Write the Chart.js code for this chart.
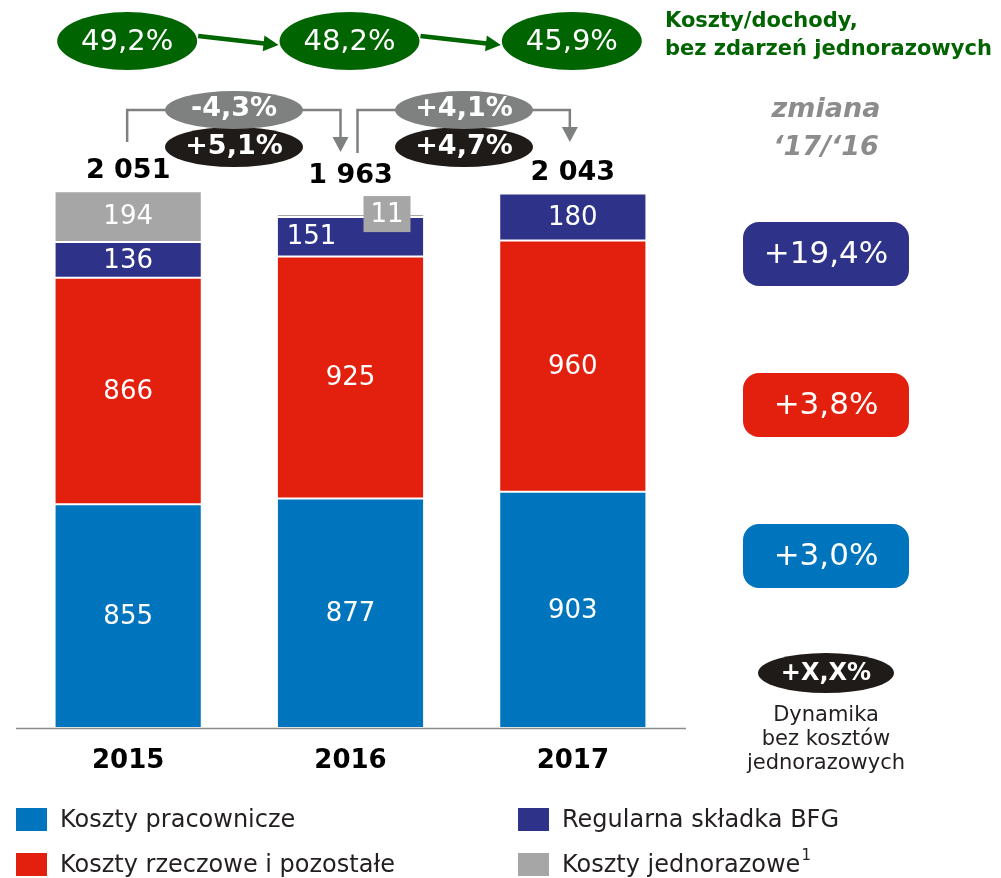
<!DOCTYPE html>
<html>
<head>
<meta charset="utf-8">
<script src="https://cdn.jsdelivr.net/npm/chart.js@4/dist/chart.umd.min.js"></script>
<style>
  html, body { margin: 0; padding: 0; background: #fff; }
  #wrap { width: 1001px; height: 878px; position: relative; }
</style>
</head>
<body>
<div id="wrap"><canvas id="costChart" width="1001" height="878"></canvas></div>
<script>
// chart data
const years = ['2015', '2016', '2017'];
const personnel = [855, 877, 903];
const material = [866, 925, 960];
const bfg = [136, 151, 180];
const oneOff = [194, 11, null];
const totals = ['2 051', '1 963', '2 043'];
const costIncome = ['49,2%', '48,2%', '45,9%'];
const yoyReported = ['-4,3%', '+4,1%'];
const yoyExOneOff = ['+5,1%', '+4,7%'];
const change1716 = ['+19,4%', '+3,8%', '+3,0%']; // BFG, rzeczowe, pracownicze

const BLUE = '#0075be', RED = '#e31f0d', NAVY = '#2e3389', GRAY = '#a5a6a5';
const GREEN = '#006400', CONN = '#7f8181', DARK = '#1f1b18';
const FONT = '"DejaVu Sans", Verdana, sans-serif';

function ellipse(ctx, cx, cy, rx, ry, fill) {
  ctx.beginPath();
  ctx.ellipse(cx, cy, rx, ry, 0, 0, Math.PI * 2);
  ctx.fillStyle = fill;
  ctx.fill();
}
function text(ctx, s, x, y, font, color, align) {
  ctx.font = font;
  ctx.fillStyle = color;
  ctx.textAlign = align || 'center';
  ctx.textBaseline = 'middle';
  ctx.fillText(s, x, y);
}
function roundRect(ctx, x, y, w, h, r, fill) {
  ctx.beginPath();
  ctx.moveTo(x + r, y);
  ctx.arcTo(x + w, y, x + w, y + h, r);
  ctx.arcTo(x + w, y + h, x, y + h, r);
  ctx.arcTo(x, y + h, x, y, r);
  ctx.arcTo(x, y, x + w, y, r);
  ctx.closePath();
  ctx.fillStyle = fill;
  ctx.fill();
}
function arrowHead(ctx, tx, ty, angle, len, half, color) {
  ctx.save();
  ctx.translate(tx, ty);
  ctx.rotate(angle);
  ctx.beginPath();
  ctx.moveTo(0, 0);
  ctx.lineTo(-len, -half);
  ctx.lineTo(-len, half);
  ctx.closePath();
  ctx.fillStyle = color;
  ctx.fill();
  ctx.restore();
}

const annotations = {
  id: 'annotations',
  afterDatasetsDraw(chart) {
    const ctx = chart.ctx;
    const xs = chart.scales.x;
    const area = chart.chartArea;
    ctx.save();

    // base line
    ctx.strokeStyle = '#8c8c8c';
    ctx.lineWidth = 1.5;
    ctx.beginPath();
    ctx.moveTo(area.left - 1, area.bottom + 0.5);
    ctx.lineTo(area.right + 2, area.bottom + 0.5);
    ctx.stroke();

    // segment labels
    const segFont = '26px ' + FONT;
    const barTops = [];
    chart.data.datasets.forEach((ds, di) => {
      const meta = chart.getDatasetMeta(di);
      meta.data.forEach((bar, i) => {
        const v = ds.data[i];
        if (v == null) return;
        const p = bar.getProps(['x', 'y', 'base', 'width']);
        barTops[i] = Math.min(barTops[i] ?? Infinity, p.y);
        let cx = p.x, cy = (p.y + p.base) / 2;
        if (v < 40) {
          // tiny segment: label in a box sitting on top of the bar
          const bx = p.x + 13, by = p.y - 18, bw = 47, bh = 36;
          ctx.fillStyle = ds.backgroundColor;
          ctx.fillRect(bx, by, bw, bh);
          text(ctx, String(v), bx + bw / 2, by + bh / 2 + 1, segFont, '#fff');
          barTops[i] = Math.min(barTops[i], by);
          return;
        }
        if (di === 2 && oneOff[i] != null && oneOff[i] < 40) cx = p.x - 39;
        text(ctx, String(v), cx, cy + 1, segFont, '#fff');
      });
    });

    // totals and year labels
    years.forEach((y, i) => {
      const x = xs.getPixelForValue(i);
      text(ctx, totals[i], x, barTops[i] - 20, 'bold 27px ' + FONT, '#000');
      text(ctx, y, x, area.bottom + 33, 'bold 26px ' + FONT, '#000');
    });

    // cost/income ellipses with arrows
    const cx = years.map((_, i) => xs.getPixelForValue(i));
    costIncome.forEach((s, i) => {
      ellipse(ctx, cx[i] - 1, 41, 70, 29, GREEN);
      text(ctx, s, cx[i] - 1, 42, '29px ' + FONT, '#fff');
    });
    ctx.strokeStyle = GREEN;
    ctx.lineWidth = 4.5;
    for (let i = 0; i < 2; i++) {
      const x0 = cx[i] + 70, y0 = 36, x1 = cx[i + 1] - 72, y1 = 45;
      const ang = Math.atan2(y1 - y0, x1 - x0);
      ctx.beginPath();
      ctx.moveTo(x0, y0);
      ctx.lineTo(x1 - 12 * Math.cos(ang), y1 - 12 * Math.sin(ang));
      ctx.stroke();
      arrowHead(ctx, x1, y1, ang, 15, 8, GREEN);
    }
    text(ctx, 'Koszty/dochody,', 665, 22, 'bold 21px ' + FONT, GREEN, 'left');
    text(ctx, 'bez zdarzeń jednorazowych', 665, 50, 'bold 21px ' + FONT, GREEN, 'left');

    // year-on-year connectors
    const conn = [
      { from: cx[0] - 1, fromY: 142, to: cx[1] - 10, toY: 152, mid: 234 },
      { from: cx[1] + 7, fromY: 153, to: cx[2] - 3, toY: 142, mid: 464 }
    ];
    ctx.strokeStyle = CONN;
    ctx.lineWidth = 2.5;
    conn.forEach((c, k) => {
      ctx.beginPath();
      ctx.moveTo(c.from, c.fromY);
      ctx.lineTo(c.from, 110);
      ctx.lineTo(c.to, 110);
      ctx.lineTo(c.to, c.toY - 13);
      ctx.stroke();
      arrowHead(ctx, c.to, c.toY, Math.PI / 2, 15, 8, CONN);
      ellipse(ctx, c.mid, 147, 69, 20, DARK);
      ellipse(ctx, c.mid, 110, 69, 19, CONN);
      text(ctx, yoyReported[k], c.mid, 109, 'bold 27px ' + FONT, '#fff');
      text(ctx, yoyExOneOff[k], c.mid, 147, 'bold 27px ' + FONT, '#fff');
    });

    // right panel
    text(ctx, 'zmiana', 826, 110, 'italic bold 27px ' + FONT, '#8c8c8c');
    text(ctx, '\u201817/\u201816', 826, 148, 'italic bold 27px ' + FONT, '#8c8c8c');
    const boxColors = [NAVY, RED, BLUE];
    const boxY = [222, 373, 524];
    change1716.forEach((s, i) => {
      roundRect(ctx, 743, boxY[i], 166, 64, 16, boxColors[i]);
      text(ctx, s, 826, boxY[i] + 33, '31px ' + FONT, '#fff');
    });
    ellipse(ctx, 826, 673, 68, 20, DARK);
    text(ctx, '+X,X%', 826, 674, 'bold 24px ' + FONT, '#fff');
    ['Dynamika', 'bez kosztów', 'jednorazowych'].forEach((s, i) => {
      text(ctx, s, 826, 716 + i * 24, '21px ' + FONT, '#231f20');
    });

    // legend
    const legend = [
      { c: BLUE, t: 'Koszty pracownicze', x: 16, y: 808 },
      { c: RED, t: 'Koszty rzeczowe i pozostałe', x: 16, y: 853 },
      { c: NAVY, t: 'Regularna składka BFG', x: 518, y: 808 },
      { c: GRAY, t: 'Koszty jednorazowe', x: 518, y: 853, sup: '1' }
    ];
    legend.forEach(l => {
      ctx.fillStyle = l.c;
      ctx.fillRect(l.x, l.y, 31, 23);
      text(ctx, l.t, l.x + 44, l.y + 13, '24px ' + FONT, '#231f20', 'left');
      if (l.sup) {
        ctx.font = '24px ' + FONT;
        const w = ctx.measureText(l.t).width;
        text(ctx, l.sup, l.x + 45 + w, l.y + 3, '15px ' + FONT, '#231f20', 'left');
      }
    });
    ctx.restore();
  }
};

const ctx = document.getElementById('costChart').getContext('2d');
const costChart = new Chart(ctx, {
  type: 'bar',
  data: {
    labels: years,
    datasets: [
      { label: 'Koszty pracownicze', data: personnel, backgroundColor: BLUE },
      { label: 'Koszty rzeczowe i pozostałe', data: material, backgroundColor: RED },
      { label: 'Regularna składka BFG', data: bfg, backgroundColor: NAVY },
      { label: 'Koszty jednorazowe', data: oneOff, backgroundColor: GRAY }
    ]
  },
  options: {
    responsive: false,
    animation: false,
    layout: { padding: { left: 17, right: 317, top: 100, bottom: 150 } },
    datasets: {
      bar: {
        categoryPercentage: 1,
        barPercentage: 0.662,
        borderColor: '#ffffff',
        borderWidth: 1,
        borderSkipped: false
      }
    },
    scales: {
      x: { stacked: true, display: false },
      y: { stacked: true, display: false, min: 0, max: 2400 }
    },
    plugins: {
      legend: { display: false },
      tooltip: { enabled: false }
    }
  },
  plugins: [annotations]
});
</script>
</body>
</html>
